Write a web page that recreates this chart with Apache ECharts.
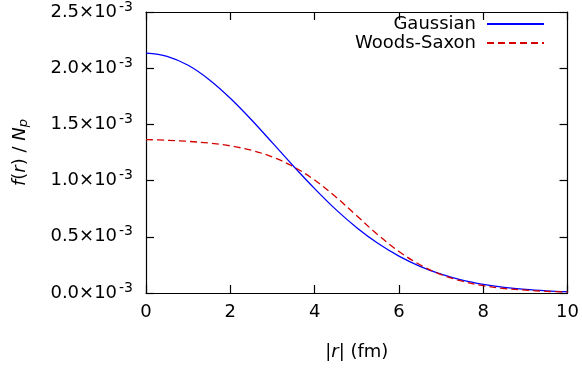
<!DOCTYPE html>
<html><head><meta charset="utf-8">
<script src="https://cdn.jsdelivr.net/npm/echarts@6/dist/echarts.min.js"></script>
<style>html,body{margin:0;padding:0;background:#fff}#c{width:582px;height:369px}</style>
</head><body><div id="c"></div>
<script>
// radius |r| in fm
const radius = [0,0.5,1,1.5,2,2.5,3,3.5,4,4.5,5,5.5,6,6.5,7,7.5,8,8.5,9,9.5,10];
// f(r)/N_p in units of 1e-3
const gaussian = [2.134,2.106,2.026,1.898,1.733,1.542,1.336,1.128,0.929,0.744,0.581,0.442,0.328,0.237,0.167,0.114,0.0765,0.0497,0.0315,0.0195,0.0117];
const woodsSaxon = [1.365,1.359,1.349,1.334,1.309,1.270,1.210,1.123,1.005,0.856,0.687,0.518,0.370,0.251,0.164,0.105,0.065,0.040,0.025,0.015,0.009];
const xTicks = [0,2,4,6,8,10];
const yTicks = [0.0,0.5,1.0,1.5,2.0,2.5];
const seriesNames = ['Gaussian','Woods-Saxon'];

const FONT = 'DejaVu Sans';
const FS = 18;
const chart = echarts.init(document.getElementById('c'), null, {renderer:'canvas'});
const toPairs = (ys) => radius.map((r,i)=>[r, ys[i]*1e-3]);
const axisLine = {show:true, onZero:false, lineStyle:{color:'#000', width:1.2}};
const axisTick = {show:true, inside:true, length:8, lineStyle:{color:'#000', width:1.2}};

chart.setOption({
  animation:false,
  backgroundColor:'#fff',
  grid:{left:146, right:14, top:11, bottom:76, containLabel:false},
  legend:{
    orient:'vertical', right:32, top:10, align:'right', itemWidth:57, itemHeight:12, itemGap:1,
    itemStyle:{opacity:0},
    textStyle:{fontFamily:FONT, fontSize:FS, lineHeight:18, color:'#000', padding:[0,6,0,0]},
    data:seriesNames
  },
  xAxis:[{
    type:'value', min:xTicks[0], max:xTicks[xTicks.length-1], interval:2, position:'bottom',
    axisLine, axisTick, splitLine:{show:false},
    axisLabel:{fontFamily:FONT, fontSize:FS, color:'#000', margin:10},
    name:'{a||}{i|r}{a|| (fm)}', nameLocation:'middle', nameGap:50,
    nameTextStyle:{fontFamily:FONT, fontSize:FS, color:'#000',
      rich:{a:{fontFamily:FONT, fontSize:FS, color:'#000'}, i:{fontFamily:FONT, fontSize:FS, fontStyle:'italic', color:'#000'}}}
  },{
    type:'value', min:0, max:10, interval:2, position:'top',
    axisLine, axisTick, axisLabel:{show:false}, splitLine:{show:false}
  }],
  yAxis:[{
    type:'value', min:0, max:0.0025, interval:0.0005, position:'left',
    axisLine, axisTick, splitLine:{show:false},
    axisLabel:{margin:13, formatter:(v)=>'{m|'+(v*1000).toFixed(1)+'×10}{s|-3}',
      rich:{m:{fontFamily:FONT, fontSize:FS, color:'#000'}, s:{fontFamily:FONT, fontSize:14, color:'#000', padding:[0,0,10,2]}}},
    name:'{i|f}{a|(}{i|r}{a|) / }{i|N}{b|p}', nameLocation:'middle', nameGap:116, nameRotate:90,
    nameTextStyle:{fontFamily:FONT, fontSize:FS, color:'#000',
      rich:{a:{fontFamily:FONT, fontSize:FS, color:'#000'}, i:{fontFamily:FONT, fontSize:FS, fontStyle:'italic', color:'#000'},
            b:{fontFamily:FONT, fontSize:13, fontStyle:'italic', color:'#000', padding:[7,0,0,0]}}}
  },{
    type:'value', min:0, max:0.0025, interval:0.0005, position:'right',
    axisLine, axisTick, axisLabel:{show:false}, splitLine:{show:false}
  }],
  series:[{
    name:seriesNames[0], type:'line', data:toPairs(gaussian), smooth:0.35, symbol:'none',
    lineStyle:{color:'#0000ff', width:1.3}, itemStyle:{color:'#0000ff'}
  },{
    name:seriesNames[1], type:'line', data:toPairs(woodsSaxon), smooth:0.35, symbol:'none',
    lineStyle:{color:'#d40000', width:1.3, type:[7,4]}, itemStyle:{color:'#d40000'}
  }]
});
</script></body></html>
